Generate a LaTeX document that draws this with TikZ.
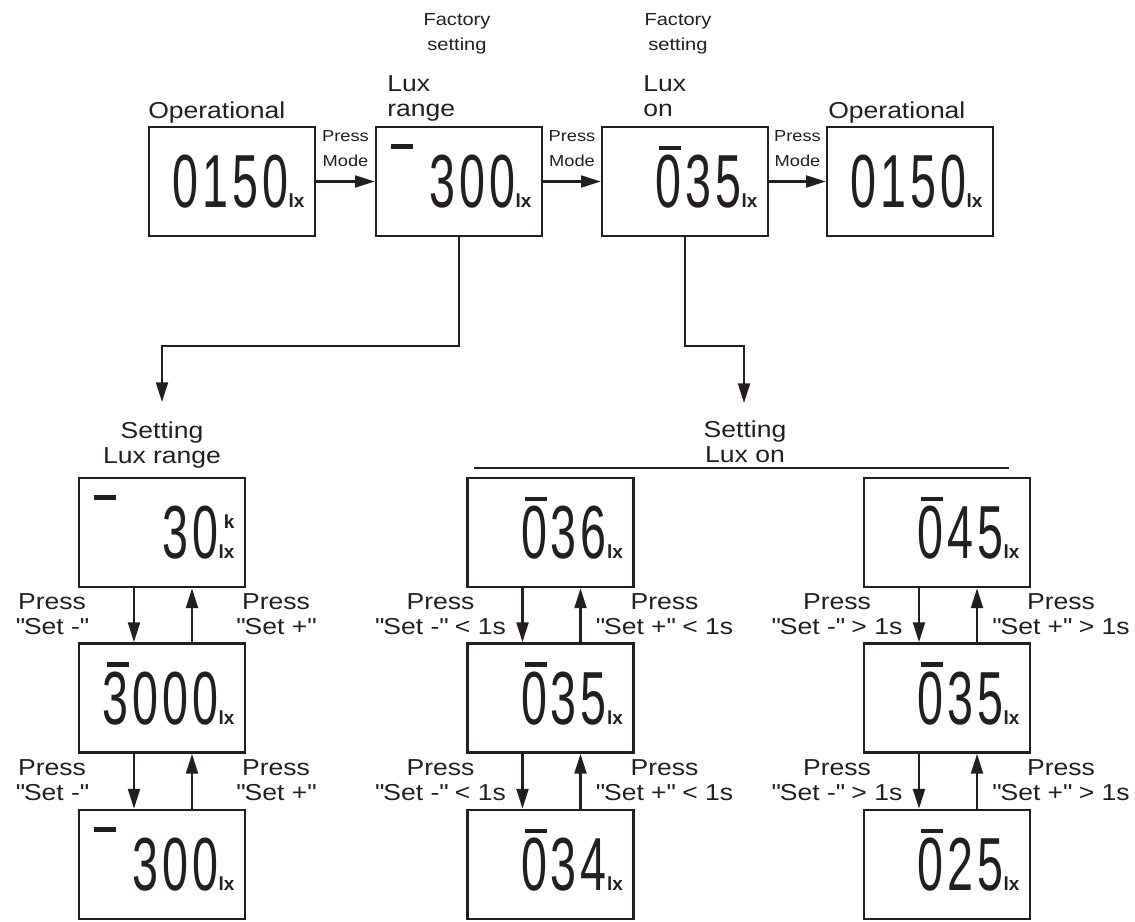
\documentclass[tikz,border=0pt]{standalone}
\usepackage{fontspec}
\setmainfont[FakeStretch=1.15]{Liberation Sans}
\newfontfamily\lcdfont[FakeStretch=0.62,LetterSpace=5]{Liberation Sans}
\newfontfamily\unitfont{Liberation Sans}
\usetikzlibrary{arrows.meta,positioning,calc}
\newcommand{\qt}[1]{\textquotedbl#1\textquotedbl}

\begin{document}
\begin{tikzpicture}[x=0.025cm,y=-0.025cm]
\definecolor{ink}{HTML}{231F20}
\tikzset{
  lcdbox/.style={draw=ink,line width=1.8pt,minimum width=4.15cm,minimum height=2.73cm,inner sep=0pt},
  digits/.style={font=\lcdfont\fontsize{53.5pt}{53.5pt}\selectfont,text=ink,inner sep=0pt,anchor=base east},
  unit/.style={font=\unitfont\bfseries\fontsize{13.5pt}{13.5pt}\selectfont,text=ink,inner sep=0pt,anchor=base west},
  caption/.style={font=\fontsize{16.4pt}{17.8pt}\selectfont,text=ink,inner sep=0pt,align=center},
  note/.style={font=\fontsize{12.4pt}{17.8pt}\selectfont,text=ink,inner sep=0pt,align=center},
  hint/.style={font=\fontsize{11.3pt}{17.8pt}\selectfont,text=ink,inner sep=0pt,align=center},
  conn/.style={draw=ink,line width=1.5pt,-{Triangle[length=14pt,width=8.5pt]}},
  segbar/.style={fill=ink}
}
\useasboundingbox (0,0) rectangle (1135,921);

% displays: box, digits, unit
\foreach \nm/\cx/\cy/\val in {opA/232/181.5/0150, lr/459/181.5/300, lo/685/181.5/035, opB/910/181.5/0150,
    rgA/162/532.5/30, rgB/162/698/3000, rgC/162/864.5/300,
    ltA/550.5/532.5/036, ltB/550.5/698/035, ltC/550.5/864.5/034,
    gtA/947/532.5/045, gtB/947/698/035, gtC/947/864.5/025} {
  \node[lcdbox] (\nm) at (\cx,\cy) {};
  \node[digits] (\nm-d) at ($(\nm.east)+(-28,26)$) {\val};
  \node[unit] (\nm-u) at (\nm-d.base east) {lx};
}
\node[unit,anchor=base east] (rgA-k) at ($(rgA-u.base east)+(0,-30)$) {k};

% indicator bars
\foreach \nm in {lo,rgB,ltA,ltB,ltC,gtA,gtB,gtC}
  \fill[segbar] ($(\nm-d.north west)+(4,-9)$) rectangle ++(22,4.5);
\foreach \nm in {lr,rgA,rgC}
  \fill[segbar] ($(\nm.north west)+(16,18)$) rectangle ++(22,5);

% top row
\node[caption,anchor=base west] (opA-t) at (148,118) {Operational};
\node[caption,anchor=north west,align=left] (lr-t) at (387,75.5) {Lux\\range};
\node[caption,anchor=north west,align=left] (lo-t) at (643,75.5) {Lux\\on};
\node[caption,anchor=base west] (opB-t) at (828,118) {Operational};
\node[note,anchor=north] (lr-f) at (457,13.3) {Factory\\setting};
\node[note,anchor=north] (lo-f) at (678,13.3) {Factory\\setting};

\foreach \a/\b in {opA/lr, lr/lo, lo/opB} {
  \draw[conn] (\a) -- (\b);
  \path (\a.east) -- (\b.west) coordinate[midway] (\a-mid);
  \node[hint,above=3.6mm of \a-mid] (\a-pm) {Press\\Mode};
}

% branches to the setting columns
\coordinate (rgTip) at (162,402);
\coordinate (ltTip) at (744,403);
\draw[conn] (lr.south) -- ++(0,109) -| (rgTip);
\draw[conn] (lo.south) -- ++(0,109) -| (ltTip);

\node[caption,anchor=north] (rg-t) at (162,421) {Setting\\Lux range};
\node[caption,anchor=north] (lt-t) at (745,420) {Setting\\Lux on};
\coordinate (barL) at (474,468);
\coordinate (barR) at (1009,468);
\draw[ink,line width=1.5pt] (barL) -- (barR);

% set -/+ steps
\foreach \up/\dn/\lo/\hi in {rgA/rgB/{\qt{Set -}}/{\qt{Set +}}, rgB/rgC/{\qt{Set -}}/{\qt{Set +}},
    ltA/ltB/{\qt{Set -} < 1s}/{\qt{Set +} < 1s}, ltB/ltC/{\qt{Set -} < 1s}/{\qt{Set +} < 1s},
    gtA/gtB/{\qt{Set -} > 1s}/{\qt{Set +} > 1s}, gtB/gtC/{\qt{Set -} > 1s}/{\qt{Set +} > 1s}} {
  \draw[conn] ([xshift=-0.7cm]\up.south) -- ([xshift=-0.7cm]\dn.north);
  \draw[conn] ([xshift=0.75cm]\dn.north) -- ([xshift=0.75cm]\up.south);
  \node[caption,anchor=north] (\up-m) at ($(\up.south)+(-110,5)$) {Press\\\lo};
  \node[caption,anchor=north] (\up-p) at ($(\up.south)+(114,5)$) {Press\\\hi};
}
\end{tikzpicture}
\end{document}
